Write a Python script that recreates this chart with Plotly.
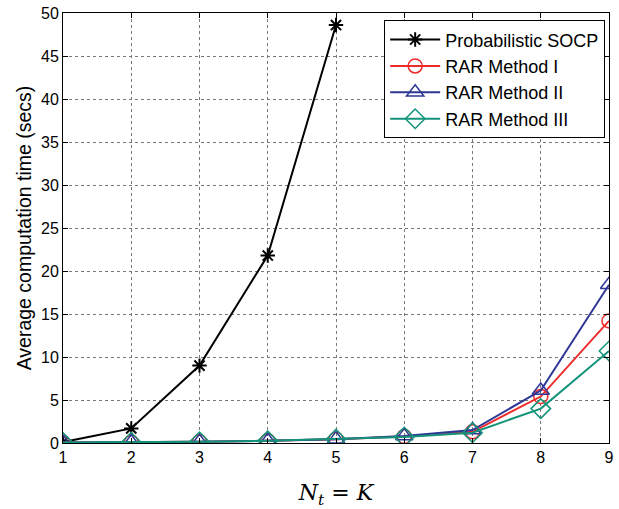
import plotly.graph_objects as go

x_vals = [1, 2, 3, 4, 5, 6, 7, 8, 9]
x_socp = [1, 2, 3, 4, 5]
socp = [0.1, 1.7, 9.0, 21.8, 48.6]
rar1 = [0.05, 0.08, 0.15, 0.25, 0.45, 0.75, 1.3, 5.4, 14.2]
rar2 = [0.05, 0.08, 0.15, 0.25, 0.45, 0.8, 1.5, 6.1, 18.4]
rar3 = [0.05, 0.08, 0.15, 0.25, 0.45, 0.7, 1.2, 4.0, 10.7]
y_ticks = [0, 5, 10, 15, 20, 25, 30, 35, 40, 45, 50]

fig = go.Figure()
fig.add_trace(go.Scatter(x=x_socp, y=socp, mode="lines+markers", name="Probabilistic SOCP",
                         line=dict(color="black", width=2),
                         marker=dict(symbol="asterisk-open", size=12, color="black", line=dict(width=2, color="black"))))
fig.add_trace(go.Scatter(x=x_vals, y=rar1, mode="lines+markers", name="RAR Method I",
                         line=dict(color="#ee2b2b", width=2),
                         marker=dict(symbol="circle-open", size=14, color="#ee2b2b", line=dict(width=1.5))))
fig.add_trace(go.Scatter(x=x_vals, y=rar2, mode="lines+markers", name="RAR Method II",
                         line=dict(color="#2e3796", width=2),
                         marker=dict(symbol="triangle-up-open", size=15, color="#2e3796", line=dict(width=1.5))))
fig.add_trace(go.Scatter(x=x_vals, y=rar3, mode="lines+markers", name="RAR Method III",
                         line=dict(color="#13937a", width=2),
                         marker=dict(symbol="diamond-open", size=15, color="#13937a", line=dict(width=1.5))))

fig.update_layout(
    width=619, height=509,
    margin=dict(l=63, r=5, t=10, b=64),
    paper_bgcolor="white", plot_bgcolor="white",
    font=dict(family="Liberation Sans, Arial, sans-serif", size=16, color="black"),
    showlegend=True,
    legend=dict(x=0.993, y=0.983, xanchor="right", yanchor="top",
                bordercolor="black", borderwidth=1, bgcolor="white",
                font=dict(size=18), tracegroupgap=0, itemwidth=50),
)
fig.update_xaxes(range=[1, 9], tickvals=x_vals, showgrid=True, gridcolor="#777777", griddash="dot",
                 gridwidth=1, showline=True, linecolor="black", linewidth=1, mirror="ticks",
                 ticks="inside", ticklen=5, tickcolor="black", zeroline=False,
                 title=dict(text="<i>N</i><sub><i>t</i></sub> = <i>K</i>",
                            font=dict(family="DejaVu Serif, Liberation Serif, serif", size=22), standoff=22))
fig.update_yaxes(range=[0, 50], tickvals=y_ticks, showgrid=True, gridcolor="#777777", griddash="dot",
                 gridwidth=1, showline=True, linecolor="black", linewidth=1, mirror="ticks",
                 ticks="inside", ticklen=5, tickcolor="black", zeroline=False,
                 title=dict(text="Average computation time (secs)", font=dict(size=19.5), standoff=4))

fig.write_html("out.html")
